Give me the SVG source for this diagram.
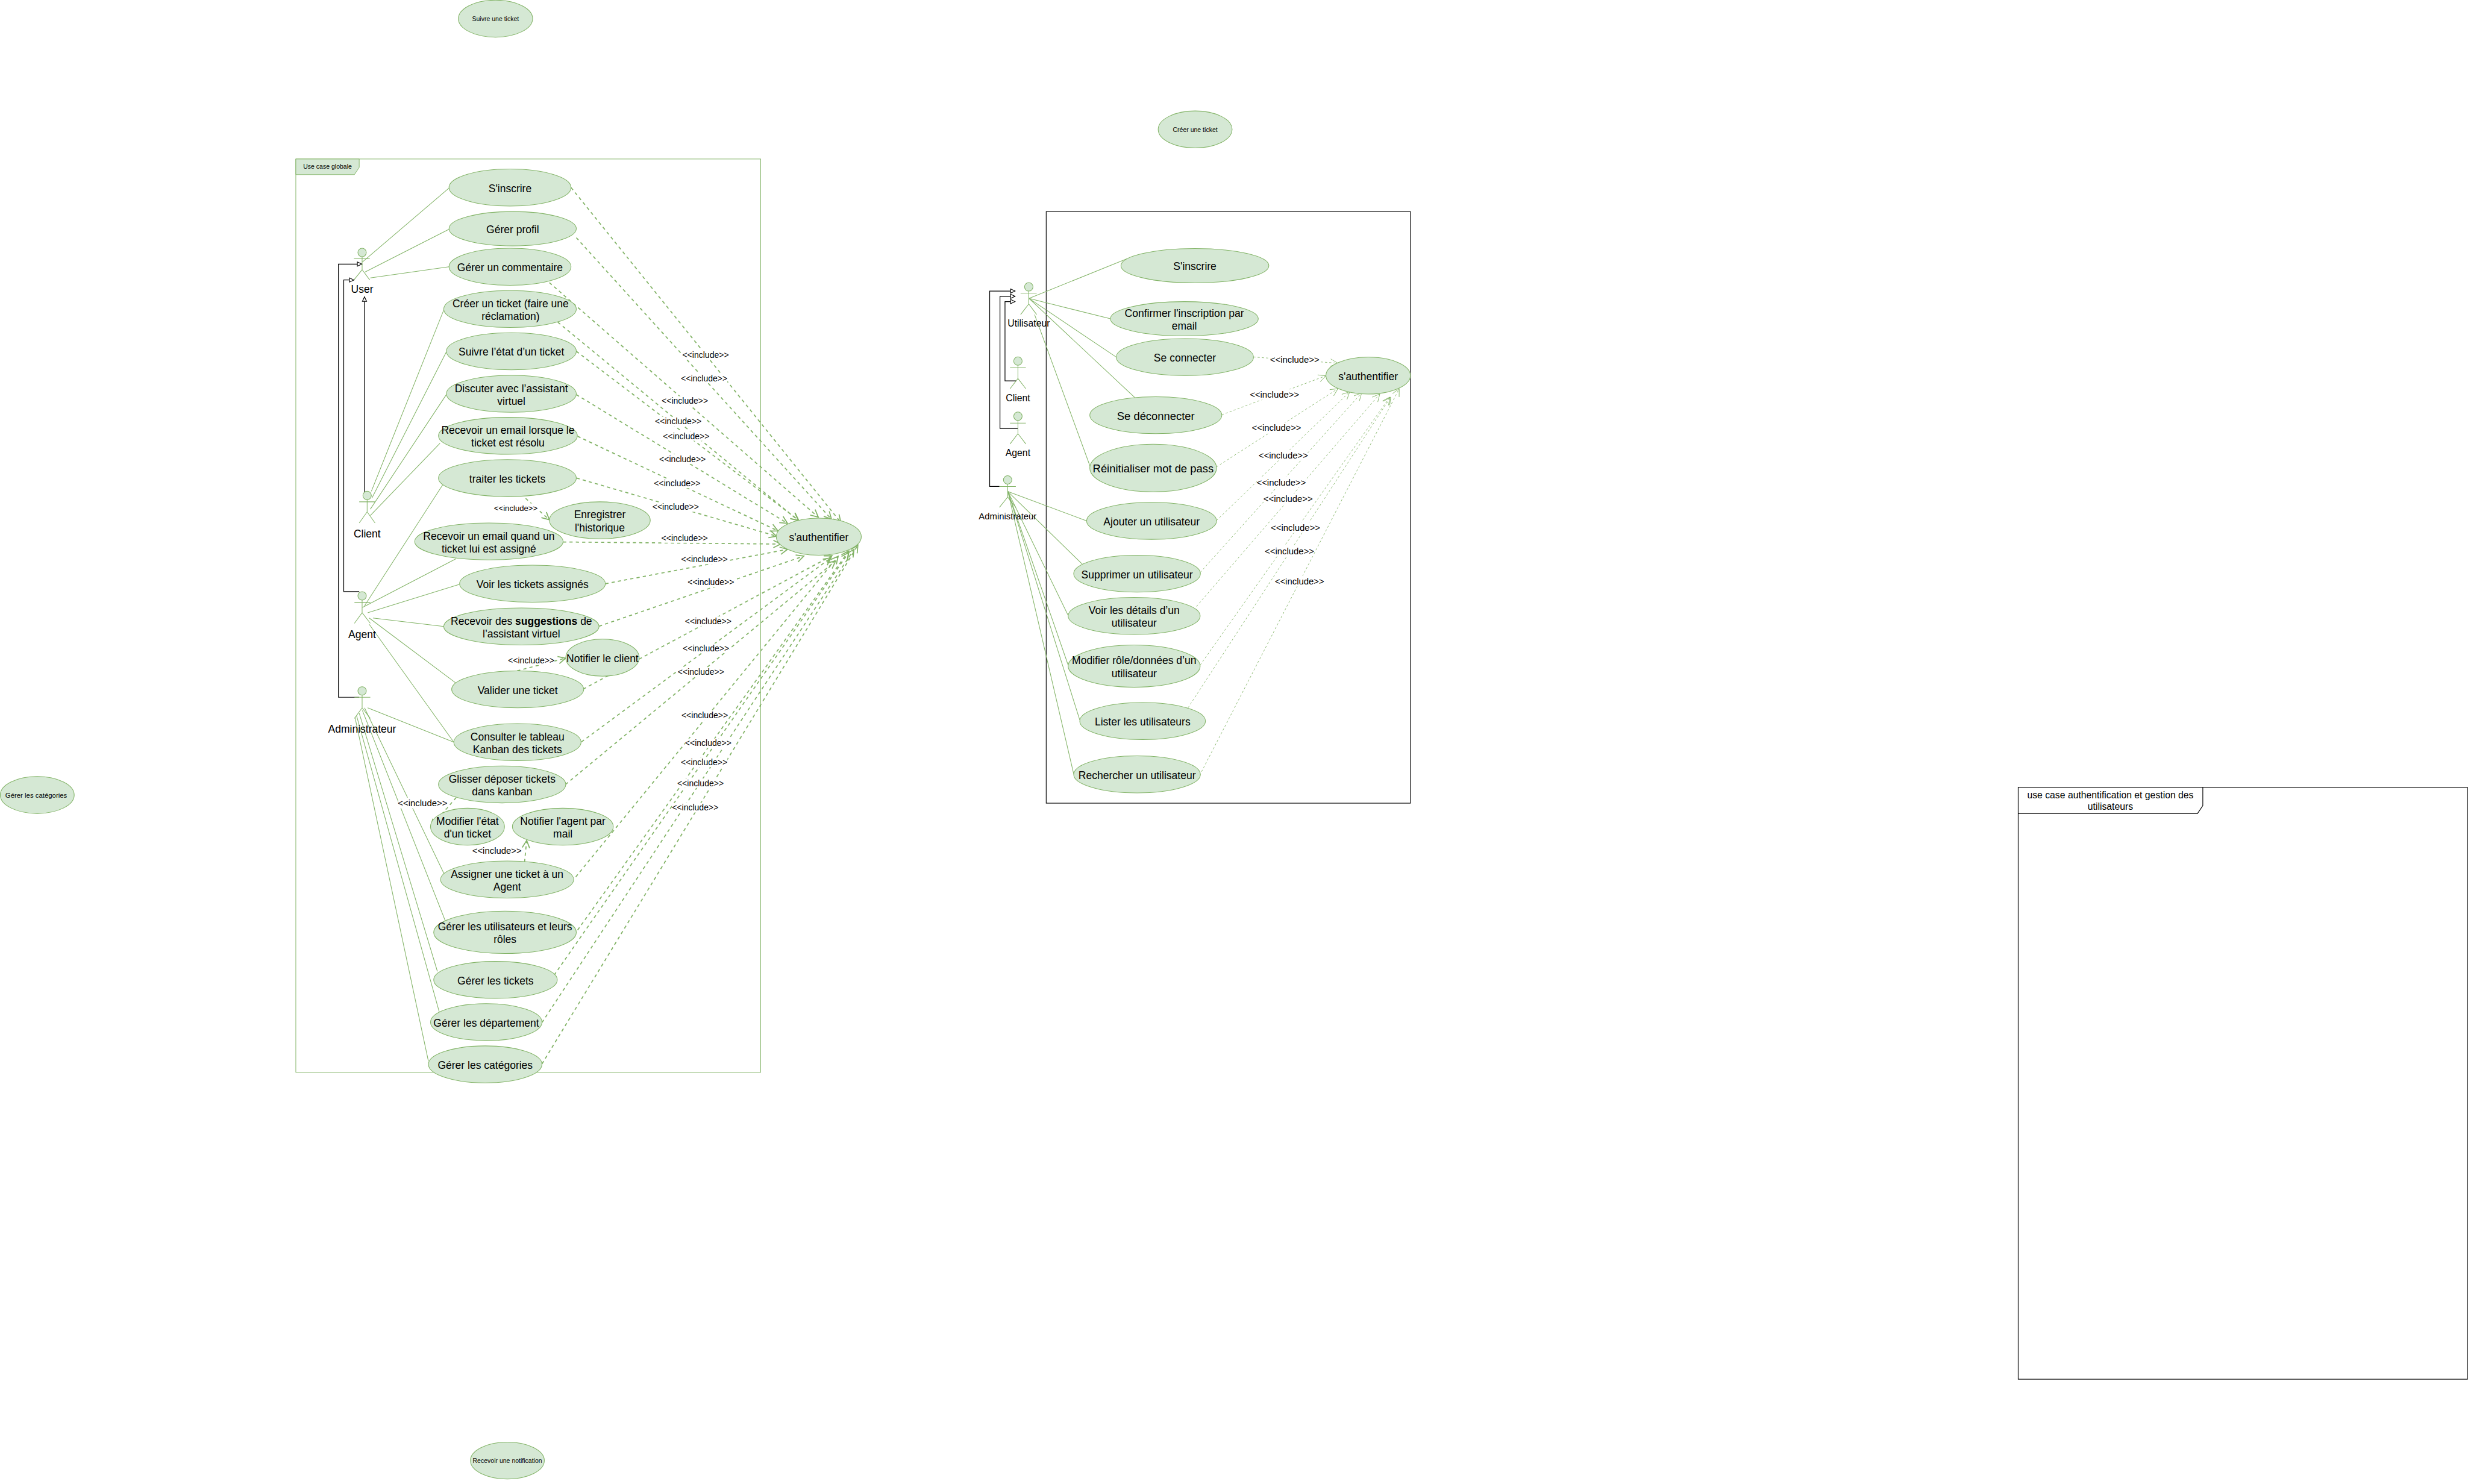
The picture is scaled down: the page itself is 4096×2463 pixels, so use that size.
<svg xmlns="http://www.w3.org/2000/svg" width="4096" height="2463" viewBox="0 0 4096 2463">
<style>
text{font-family:"Liberation Sans",Arial,sans-serif;fill:#000;text-anchor:middle}
.u{fill:#d5e8d4;stroke:#82b366;stroke-width:1.2}
.t{font-size:20px;transform:translateY(1.5px)}
.t21{font-size:21px;transform:translateY(1.5px)}
.s{font-size:12px}
.a{fill:#d5e8d4;stroke:#82b366;stroke-width:1.2}
.al{fill:none;stroke:#82b366;stroke-width:1.2}
.assoc line{stroke:#82b366;stroke-width:1.2}
.inc line{stroke:#82b366;stroke-width:2;stroke-dasharray:6 6;marker-end:url(#open)}
.inc2 line{stroke:#82b366;stroke-width:1;stroke-dasharray:4 4;marker-end:url(#open2)}
.gen path{fill:none;stroke:#000;stroke-width:1.4;marker-end:url(#tri)}
.lb rect{fill:#fff}
.lb text{font-size:16px}
.lb2 rect{fill:#fff}
.lb2 text{font-size:17px}
.fg{fill:none;stroke:#82b366;stroke-width:1.1}
.fk{fill:none;stroke:#000;stroke-width:1.3}
</style>
<defs>
<marker id="open" markerUnits="userSpaceOnUse" markerWidth="20" markerHeight="20" viewBox="0 0 20 20" refX="16" refY="10" orient="auto"><path d="M2 3L16 10L2 17" fill="none" stroke="#82b366" stroke-width="2"/></marker>
<marker id="open2" markerUnits="userSpaceOnUse" markerWidth="20" markerHeight="20" viewBox="0 0 20 20" refX="16" refY="10" orient="auto"><path d="M2 3L16 10L2 17" fill="none" stroke="#82b366" stroke-width="1"/></marker>
<marker id="tri" markerUnits="userSpaceOnUse" markerWidth="12" markerHeight="12" viewBox="0 0 12 12" refX="10" refY="6" orient="auto"><path d="M1.5 2L10 6L1.5 10Z" fill="#fff" stroke="#000" stroke-width="1.3"/></marker>
</defs>
<rect width="4096" height="2463" fill="#fff"/>
<g transform="scale(0.87671)">

<g id="frame-globale">
<rect class="fg" x="560" y="301" width="880" height="1729"/>
<path d="M560 301H680V317L671 330.5H560Z" fill="#d5e8d4" stroke="#82b366" stroke-width="1.1"/>
<text class="s" x="620" y="319.5">Use case globale</text>
</g>
<g id="frame-auth"><rect class="fk" x="1980.5" y="400.5" width="689.5" height="1120"/></g>
<g id="frame-gestion">
<rect class="fk" x="3820.5" y="1490.5" width="850.5" height="1120.5"/>
<path class="fk" d="M3820.5 1540H4160L4170 1525V1490.5"/>
<text font-size="18" x="3995" y="1511">use case authentification et gestion des</text>
<text font-size="18" x="3995" y="1533">utilisateurs</text>
</g>

<g id="connectors">
<g class="assoc">
<line x1="686" y1="496" x2="850" y2="356"/>
<line x1="691" y1="515" x2="850" y2="434"/>
<line x1="701" y1="526" x2="850" y2="505"/>
<line x1="703" y1="930" x2="840" y2="587"/>
<line x1="704" y1="943" x2="845" y2="666"/>
<line x1="701" y1="964" x2="845" y2="747"/>
<line x1="701" y1="976" x2="833" y2="839"/>
<line x1="690" y1="1147" x2="838" y2="918"/>
<line x1="686" y1="1150" x2="863" y2="1058"/>
<line x1="696" y1="1160" x2="870" y2="1106"/>
<line x1="706" y1="1170" x2="840" y2="1186"/>
<line x1="699" y1="1170" x2="863" y2="1293"/>
<line x1="699" y1="1182" x2="859" y2="1405"/>
<line x1="696" y1="1340" x2="859" y2="1405"/>
<line x1="690" y1="1340" x2="842" y2="1657"/>
<line x1="686" y1="1345" x2="844" y2="1746"/>
<line x1="680" y1="1350" x2="828" y2="1839"/>
<line x1="675" y1="1355" x2="833" y2="1921"/>
<line x1="672" y1="1358" x2="811" y2="2009"/>
<line x1="1948" y1="565" x2="2134" y2="489.5"/>
<line x1="1948" y1="565" x2="2102" y2="603.5"/>
<line x1="1948" y1="565" x2="2113" y2="676"/>
<line x1="1948" y1="565" x2="2148" y2="752.5"/>
<line x1="1958.5" y1="595.5" x2="2064" y2="884"/>
<line x1="1908" y1="930.5" x2="2057" y2="986"/>
<line x1="1908" y1="930.5" x2="2053" y2="1072"/>
<line x1="1908" y1="930.5" x2="2022" y2="1165"/>
<line x1="1908" y1="930.5" x2="2022" y2="1259"/>
<line x1="1908" y1="930.5" x2="2044" y2="1363"/>
<line x1="1908" y1="930.5" x2="2032.5" y2="1465"/>
</g>
<g class="gen">
<path d="M680 1320H640.7V500H685"/>
<path d="M680 1120H650.7V530H670"/>
<path d="M690 932V562"/>
<path d="M1892 921H1873.5V551H1921.5"/>
<path d="M1926.5 811H1893V561H1921.5"/>
<path d="M1924 721H1902.5V571H1921.5"/>
</g>
<g class="inc">
<line x1="1081" y1="355" x2="1591.7" y2="989"/>
<line x1="1091" y1="450" x2="1574" y2="983"/>
<line x1="1040" y1="535" x2="1549" y2="979"/>
<line x1="1056" y1="610" x2="1511" y2="985"/>
<line x1="1091" y1="665" x2="1512" y2="985"/>
<line x1="1091" y1="747" x2="1490.7" y2="990.7"/>
<line x1="1093.5" y1="826" x2="1472.7" y2="1005"/>
<line x1="1091.5" y1="905" x2="1470" y2="1015"/>
<line x1="1066" y1="1026" x2="1478" y2="1030"/>
<line x1="1146" y1="1105" x2="1490.7" y2="1040"/>
<line x1="1134" y1="1185.5" x2="1521.7" y2="1052.7"/>
<line x1="1104" y1="1304.5" x2="1575" y2="1052"/>
<line x1="1100.7" y1="1404.5" x2="1573" y2="1056"/>
<line x1="1070.7" y1="1485" x2="1581.7" y2="1062"/>
<line x1="1090" y1="1660" x2="1586.7" y2="1053"/>
<line x1="1093.5" y1="1760.7" x2="1606.7" y2="1043"/>
<line x1="1049" y1="1846" x2="1606.7" y2="1046"/>
<line x1="1026" y1="1935.7" x2="1616.7" y2="1040"/>
<line x1="1026" y1="2014" x2="1624" y2="1032"/>
<line x1="995" y1="943.5" x2="1040" y2="984"/>
<line x1="979" y1="1270" x2="1070.7" y2="1246"/>
<line x1="863.5" y1="1510" x2="815.5" y2="1565"/>
<line x1="993" y1="1632" x2="997" y2="1591"/>
</g>
<g class="inc2">
<line x1="2372.7" y1="675.8" x2="2532.7" y2="687.6"/>
<line x1="2312.7" y1="785.3" x2="2510" y2="711.4"/>
<line x1="2302.6" y1="884" x2="2532.7" y2="735.9"/>
<line x1="2302.6" y1="985.7" x2="2555" y2="741.8"/>
<line x1="2272" y1="1083.7" x2="2577.6" y2="743.8"/>
<line x1="2265" y1="1148" x2="2612" y2="745.8"/>
<line x1="2272" y1="1259" x2="2631" y2="751.7"/>
<line x1="2249" y1="1340" x2="2632.6" y2="751.7"/>
<line x1="2274.5" y1="1461" x2="2648.8" y2="735.9"/>
</g>
<g class="lb">
<rect x="1291.7" y="663" width="88" height="18"/><text x="1335.7" y="677.5">&lt;&lt;include&gt;&gt;</text>
<rect x="1289" y="707" width="88" height="18"/><text x="1333" y="721.5">&lt;&lt;include&gt;&gt;</text>
<rect x="1252.5" y="750" width="88" height="18"/><text x="1296.5" y="764.5">&lt;&lt;include&gt;&gt;</text>
<rect x="1240" y="789" width="88" height="18"/><text x="1284" y="803.5">&lt;&lt;include&gt;&gt;</text>
<rect x="1255" y="816.5" width="88" height="18"/><text x="1299" y="831">&lt;&lt;include&gt;&gt;</text>
<rect x="1248" y="860" width="88" height="18"/><text x="1292" y="874.5">&lt;&lt;include&gt;&gt;</text>
<rect x="1238" y="906" width="88" height="18"/><text x="1282" y="920.5">&lt;&lt;include&gt;&gt;</text>
<rect x="1235" y="951" width="88" height="18"/><text x="1279" y="965.5">&lt;&lt;include&gt;&gt;</text>
<rect x="936" y="953" width="82" height="18"/><text x="976.4" y="967.5" style="font-size:15px">&lt;&lt;include&gt;&gt;</text>
<rect x="1252" y="1009.4" width="88" height="18"/><text x="1296" y="1024">&lt;&lt;include&gt;&gt;</text>
<rect x="1289.6" y="1050" width="88" height="18"/><text x="1333.6" y="1064.5">&lt;&lt;include&gt;&gt;</text>
<rect x="1301.7" y="1093" width="88" height="18"/><text x="1345.7" y="1107.5">&lt;&lt;include&gt;&gt;</text>
<rect x="1296.7" y="1167" width="88" height="18"/><text x="1340.7" y="1181.5">&lt;&lt;include&gt;&gt;</text>
<rect x="1292.4" y="1218" width="88" height="18"/><text x="1336.4" y="1232.5">&lt;&lt;include&gt;&gt;</text>
<rect x="1283" y="1263" width="88" height="18"/><text x="1327" y="1277.5">&lt;&lt;include&gt;&gt;</text>
<rect x="1290" y="1345" width="88" height="18"/><text x="1334" y="1359.5">&lt;&lt;include&gt;&gt;</text>
<rect x="1296.7" y="1398" width="88" height="18"/><text x="1340.7" y="1412.5">&lt;&lt;include&gt;&gt;</text>
<rect x="1289" y="1434" width="88" height="18"/><text x="1333" y="1448.5">&lt;&lt;include&gt;&gt;</text>
<rect x="1282" y="1473.6" width="88" height="18"/><text x="1326" y="1488">&lt;&lt;include&gt;&gt;</text>
<rect x="1272" y="1520" width="88" height="18"/><text x="1316" y="1534.5">&lt;&lt;include&gt;&gt;</text>
<rect x="961.7" y="1241" width="88" height="18"/><text x="1005.7" y="1255.5">&lt;&lt;include&gt;&gt;</text>
</g>
<g class="lb2">
<rect x="754" y="1510" width="92" height="20"/><text x="800" y="1526">&lt;&lt;include&gt;&gt;</text>
<rect x="895" y="1600" width="92" height="20"/><text x="940.7" y="1616">&lt;&lt;include&gt;&gt;</text>
<rect x="2405" y="670.5" width="92" height="20"/><text x="2451" y="686.5">&lt;&lt;include&gt;&gt;</text>
<rect x="2366.6" y="737" width="92" height="20"/><text x="2412.6" y="753">&lt;&lt;include&gt;&gt;</text>
<rect x="2370.5" y="800" width="92" height="20"/><text x="2416.5" y="816">&lt;&lt;include&gt;&gt;</text>
<rect x="2383.4" y="851.6" width="92" height="20"/><text x="2429.4" y="867.6">&lt;&lt;include&gt;&gt;</text>
<rect x="2379.5" y="903" width="92" height="20"/><text x="2425.5" y="919">&lt;&lt;include&gt;&gt;</text>
<rect x="2392.4" y="934.3" width="92" height="20"/><text x="2438.4" y="950.3">&lt;&lt;include&gt;&gt;</text>
<rect x="2406.4" y="988.8" width="92" height="20"/><text x="2452.4" y="1004.8">&lt;&lt;include&gt;&gt;</text>
<rect x="2395" y="1033" width="92" height="20"/><text x="2441" y="1049">&lt;&lt;include&gt;&gt;</text>
<rect x="2414" y="1090" width="92" height="20"/><text x="2460" y="1106">&lt;&lt;include&gt;&gt;</text>
</g>
</g>

<g id="actor-user"><ellipse class="a" cx="685.5" cy="478" rx="8" ry="8"/><path class="al" d="M685.5 486V510.5M670 490H700M670 530L685.5 510.5L700 530"/><text class="t" x="685.5" y="553">User</text></g>
<g id="actor-client"><ellipse class="a" cx="695" cy="938" rx="8" ry="8"/><path class="al" d="M695 946V969M680 950H710M680 990L695 969L710 990"/><text class="t" x="695" y="1016">Client</text></g>
<g id="actor-agent"><ellipse class="a" cx="685.5" cy="1128" rx="8" ry="8"/><path class="al" d="M685.5 1136V1160M671 1140.5H701M671 1180L685.5 1160L701 1180"/><text class="t" x="685.5" y="1206">Agent</text></g>
<g id="actor-admin"><ellipse class="a" cx="685.5" cy="1308" rx="8" ry="8"/><path class="al" d="M685.5 1316V1340M671 1320H701M671 1360L685.5 1340L701 1360"/><text class="t" x="685.5" y="1386">Administrateur</text></g>

<g id="uc-sinscrire"><ellipse class="u" cx="965.5" cy="355" rx="115.5" ry="35"/><text class="t" x="965.5" y="362">S'inscrire</text></g>
<g id="uc-profil"><ellipse class="u" cx="970.5" cy="433" rx="120.5" ry="32.5"/><text class="t" x="970.5" y="440">Gérer profil</text></g>
<g id="uc-commentaire"><ellipse class="u" cx="965.5" cy="505" rx="115.5" ry="35"/><text class="t" x="965.5" y="512">Gérer un commentaire</text></g>
<g id="uc-creer"><ellipse class="u" cx="965.5" cy="585" rx="125.5" ry="35"/><text class="t" x="966.5" y="580">Créer un ticket (faire une</text><text class="t" x="966.5" y="604">réclamation)</text></g>
<g id="uc-suivre"><ellipse class="u" cx="968" cy="665" rx="123" ry="35"/><text class="t" x="968" y="672">Suivre l’état d’un ticket</text></g>
<g id="uc-discuter"><ellipse class="u" cx="968" cy="745.5" rx="123" ry="35"/><text class="t" x="968" y="740.5">Discuter avec l’assistant</text><text class="t" x="968" y="764.5">virtuel</text></g>
<g id="uc-email-resolu"><ellipse class="u" cx="961.5" cy="825" rx="131.5" ry="35"/><text class="t" x="961.5" y="820">Recevoir un email lorsque le</text><text class="t" x="961.5" y="844">ticket est résolu</text></g>
<g id="uc-traiter"><ellipse class="u" cx="960.5" cy="905" rx="130.5" ry="35"/><text class="t" x="960.5" y="912">traiter les tickets</text></g>
<g id="uc-historique"><ellipse class="u" cx="1135.5" cy="985" rx="95.5" ry="35"/><text class="t" x="1135.5" y="980">Enregistrer</text><text class="t" x="1135.5" y="1004">l'historique</text></g>
<g id="uc-email-assigne"><ellipse class="u" cx="925.5" cy="1025" rx="140.5" ry="35"/><text class="t" x="925.5" y="1020">Recevoir un email quand un</text><text class="t" x="925.5" y="1044">ticket lui est assigné</text></g>
<g id="uc-voir"><ellipse class="u" cx="1008" cy="1105" rx="138" ry="35"/><text class="t" x="1008" y="1112">Voir les tickets assignés</text></g>
<g id="uc-suggestions"><ellipse class="u" cx="987" cy="1186" rx="147" ry="35"/><text class="t" x="987" y="1181">Recevoir des <tspan font-weight="bold">suggestions</tspan> de</text><text class="t" x="987" y="1205">l’assistant virtuel</text></g>
<g id="uc-notifier-client"><ellipse class="u" cx="1140.5" cy="1245" rx="69.5" ry="35"/><text class="t" x="1140.5" y="1252">Notifier le client</text></g>
<g id="uc-valider"><ellipse class="u" cx="980" cy="1305" rx="125" ry="35"/><text class="t" x="980" y="1312">Valider une ticket</text></g>
<g id="uc-kanban"><ellipse class="u" cx="979.5" cy="1405" rx="120.5" ry="35"/><text class="t" x="979.5" y="1400">Consulter le tableau</text><text class="t" x="979.5" y="1424">Kanban des tickets</text></g>
<g id="uc-glisser"><ellipse class="u" cx="950.5" cy="1485" rx="120.5" ry="35"/><text class="t" x="950.5" y="1480">Glisser déposer tickets</text><text class="t" x="950.5" y="1504">dans kanban</text></g>
<g id="uc-modifier-etat"><ellipse class="u" cx="885" cy="1565" rx="70" ry="35"/><text class="t" x="885" y="1560">Modifier l'état</text><text class="t" x="885" y="1584">d'un ticket</text></g>
<g id="uc-notifier-agent"><ellipse class="u" cx="1065.5" cy="1565" rx="95.5" ry="35"/><text class="t" x="1065.5" y="1560">Notifier l'agent par</text><text class="t" x="1065.5" y="1584">mail</text></g>
<g id="uc-assigner"><ellipse class="u" cx="960" cy="1665" rx="126" ry="35"/><text class="t" x="960" y="1660">Assigner une ticket à un</text><text class="t" x="960" y="1684">Agent</text></g>
<g id="uc-gerer-users"><ellipse class="u" cx="956" cy="1765" rx="135" ry="40"/><text class="t" x="956" y="1760">Gérer les utilisateurs et leurs</text><text class="t" x="956" y="1784">rôles</text></g>
<g id="uc-gerer-tickets"><ellipse class="u" cx="938" cy="1855" rx="117" ry="35"/><text class="t" x="938" y="1862">Gérer les tickets</text></g>
<g id="uc-gerer-dep"><ellipse class="u" cx="920.5" cy="1935" rx="105.5" ry="35"/><text class="t" x="920.5" y="1942">Gérer les département</text></g>
<g id="uc-gerer-cat"><ellipse class="u" cx="918.5" cy="2015" rx="107.5" ry="35"/><text class="t" x="918.5" y="2022">Gérer les catégories</text></g>
<g id="uc-auth1"><ellipse class="u" cx="1550" cy="1016" rx="80.5" ry="35"/><text class="t" x="1550" y="1023">s'authentifier</text></g>

<g id="actor-utilisateur"><ellipse class="a" cx="1947.5" cy="543" rx="8" ry="8"/><path class="al" d="M1947.5 551V575.5M1932 555H1962.5M1932 595.5L1947.5 575.5L1962.5 595.5"/><text font-size="18" x="1947.5" y="618.5">Utilisateur</text></g>
<g id="actor-client2"><ellipse class="a" cx="1927" cy="683.5" rx="8" ry="8"/><path class="al" d="M1927 691.5V716.5M1912 696H1942M1912 736L1927 716.5L1942 736"/><text font-size="18" x="1927" y="759.5">Client</text></g>
<g id="actor-agent2"><ellipse class="a" cx="1927" cy="788" rx="8" ry="8"/><path class="al" d="M1927 796V821M1912 801H1942M1912 840.5L1927 821L1942 840.5"/><text font-size="18" x="1927" y="864">Agent</text></g>
<g id="actor-admin2"><ellipse class="a" cx="1907.5" cy="908.5" rx="8" ry="8"/><path class="al" d="M1907.5 916.5V941M1892 921H1923M1892 960.5L1907.5 941L1923 960.5"/><text font-size="17" x="1907.5" y="983">Administrateur</text></g>

<g id="uc2-sinscrire"><ellipse class="u" cx="2262" cy="503" rx="140" ry="32.5"/><text class="t" x="2262" y="510">S'inscrire</text></g>
<g id="uc2-confirmer"><ellipse class="u" cx="2242" cy="603.5" rx="140" ry="32.5"/><text class="t" x="2242" y="598.5">Confirmer l'inscription par</text><text class="t" x="2242" y="622.5">email</text></g>
<g id="uc2-connecter"><ellipse class="u" cx="2243" cy="676" rx="130" ry="35"/><text class="t" x="2243" y="683">Se connecter</text></g>
<g id="uc2-deconnecter"><ellipse class="u" cx="2188" cy="786" rx="125" ry="35"/><text class="t21" x="2188" y="793">Se déconnecter</text></g>
<g id="uc2-reinit"><ellipse class="u" cx="2183" cy="886" rx="120" ry="45"/><text class="t21" x="2183" y="893">Réinitialiser mot de pass</text></g>
<g id="uc2-ajouter"><ellipse class="u" cx="2180" cy="986" rx="123" ry="35"/><text class="t" x="2180" y="993">Ajouter un utilisateur</text></g>
<g id="uc2-supprimer"><ellipse class="u" cx="2152.5" cy="1086" rx="120" ry="35"/><text class="t" x="2152.5" y="1093">Supprimer un utilisateur</text></g>
<g id="uc2-details"><ellipse class="u" cx="2147" cy="1166" rx="125" ry="35"/><text class="t" x="2147" y="1161">Voir les détails d’un</text><text class="t" x="2147" y="1185">utilisateur</text></g>
<g id="uc2-modifier"><ellipse class="u" cx="2147" cy="1261" rx="125" ry="40"/><text class="t" x="2147" y="1256">Modifier rôle/données d’un</text><text class="t" x="2147" y="1280">utilisateur</text></g>
<g id="uc2-lister"><ellipse class="u" cx="2163" cy="1365" rx="119" ry="35"/><text class="t" x="2163" y="1372">Lister les utilisateurs</text></g>
<g id="uc2-rechercher"><ellipse class="u" cx="2152.5" cy="1466" rx="120" ry="35"/><text class="t" x="2152.5" y="1473">Rechercher un utilisateur</text></g>
<g id="uc2-auth"><ellipse class="u" cx="2590" cy="711" rx="80" ry="35"/><text class="t" x="2590" y="718">s'authentifier</text></g>

<g id="float-suivre"><ellipse class="u" cx="938" cy="35.3" rx="70.3" ry="35"/><text class="s" x="938" y="39.5">Suivre une ticket</text></g>
<g id="float-creer"><ellipse class="u" cx="2262.5" cy="245" rx="70" ry="35"/><text class="s" x="2262.5" y="249.5">Créer une ticket</text></g>
<g id="float-categories"><ellipse class="u" cx="70.5" cy="1505" rx="70" ry="35"/><text font-size="13" x="68.5" y="1510">Gérer les catégories</text></g>
<g id="float-notification"><ellipse class="u" cx="960.5" cy="2765" rx="70" ry="35"/><text class="s" x="960.5" y="2769.5">Recevoir une notification</text></g>
</g>
</svg>
